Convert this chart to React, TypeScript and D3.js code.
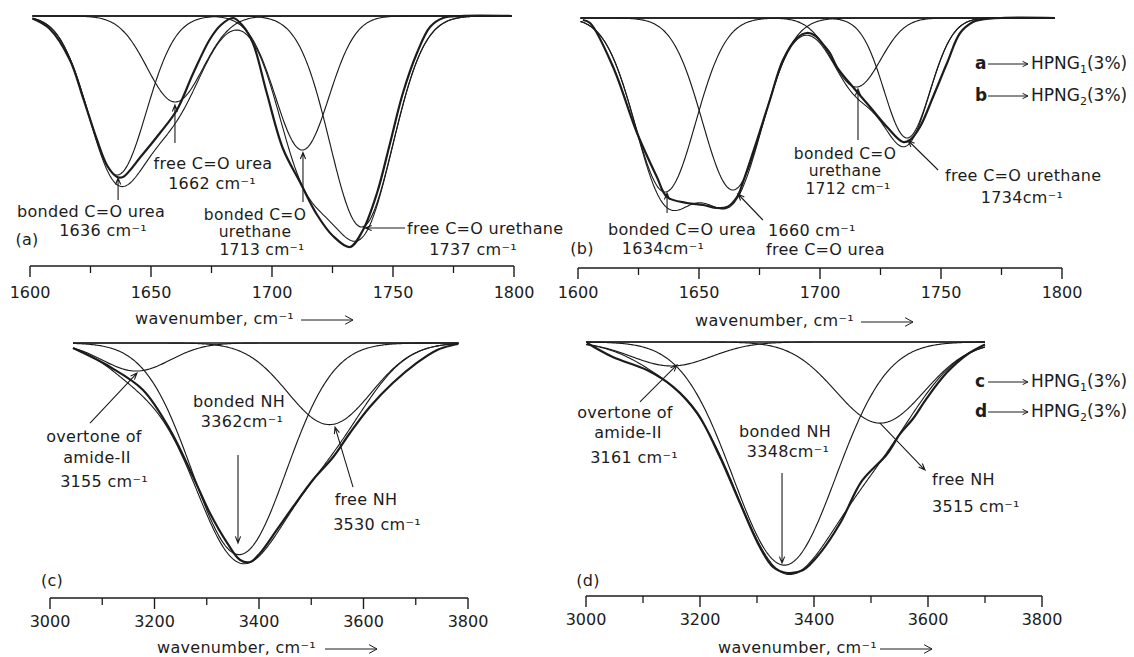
import React from 'react';
import * as d3 from 'd3';

// ---------- DATA ----------
// wavenumber ticks
const coTicks = [1600, 1650, 1700, 1750, 1800];
const coMinorTicks = [1625, 1675, 1725, 1775];
const nhTicks = [3000, 3200, 3400, 3600, 3800];
const nhMinorTicks = [3100, 3300, 3500, 3700];

// deconvoluted component peaks (center cm-1, relative depth, gaussian width cm-1)
const peaksA = [
  { name: 'bonded C=O urea', center: 1636, depth: 0.636, width: 12 },
  { name: 'free C=O urea', center: 1660, depth: 0.344, width: 11.5 },
  { name: 'bonded C=O urethane', center: 1712.5, depth: 0.536, width: 11 },
  { name: 'free C=O urethane', center: 1737, depth: 0.844, width: 13 },
];
const peaksB = [
  { name: 'bonded C=O urea', center: 1636, depth: 0.696, width: 12.5 },
  { name: 'free C=O urea', center: 1664, depth: 0.688, width: 12.5 },
  { name: 'bonded C=O urethane', center: 1715, depth: 0.276, width: 10 },
  { name: 'free C=O urethane', center: 1736, depth: 0.48, width: 9.5 },
];
const peaksC = [
  { name: 'overtone of amide-II', center: 3165, depth: 0.11, width: 65 },
  { name: 'bonded NH', center: 3362, depth: 0.83, width: 90 },
  { name: 'free NH', center: 3535, depth: 0.32, width: 80 },
];
const peaksD = [
  { name: 'overtone of amide-II', center: 3150, depth: 0.094, width: 70 },
  { name: 'bonded NH', center: 3348, depth: 0.875, width: 90 },
  { name: 'free NH', center: 3516, depth: 0.318, width: 78 },
];

// measured spectra [wavenumber, relative depth]
const measuredA: [number, number][] = [
  [1601, 0.01], [1608, 0.05], [1616.5, 0.176], [1622, 0.33], [1627.7, 0.496], [1632, 0.6],
  [1636, 0.644], [1638.4, 0.644], [1646, 0.56], [1653.7, 0.468], [1660.7, 0.376], [1667.4, 0.23],
  [1674.4, 0.092], [1679, 0.035], [1683.9, 0.008], [1688, 0.04], [1692.1, 0.108], [1697.9, 0.31],
  [1704.5, 0.53], [1711.6, 0.665], [1718.6, 0.795], [1725.2, 0.88], [1732.2, 0.924], [1737.6, 0.856],
  [1743.4, 0.708], [1748.8, 0.508], [1754.1, 0.308], [1759.9, 0.148], [1765.3, 0.044], [1770.7, 0.008],
  [1778, 0], [1799, 0],
];
const measuredB: [number, number][] = [
  [1602, 0.008], [1605, 0.02], [1614.5, 0.196], [1624.4, 0.46], [1632.6, 0.636], [1636.8, 0.716],
  [1645, 0.74], [1651.7, 0.748], [1657.4, 0.76], [1661.6, 0.756], [1665.7, 0.716], [1668.2, 0.656],
  [1674, 0.488], [1679.3, 0.328], [1684.7, 0.168], [1690.5, 0.08], [1694.6, 0.06], [1697.9, 0.07],
  [1700.8, 0.1], [1704.1, 0.14], [1707, 0.196], [1713.6, 0.276], [1720.7, 0.356], [1727.7, 0.436],
  [1734.3, 0.496], [1737.2, 0.488], [1741.3, 0.436], [1746.7, 0.316], [1752.5, 0.18], [1757.9, 0.06],
  [1763.2, 0.016], [1766.1, 0.008], [1775, 0], [1797, 0],
];
const measuredC: [number, number][] = [
  [3044, 0.02], [3115, 0.094], [3178, 0.184], [3230, 0.341], [3274, 0.525], [3306, 0.667],
  [3339, 0.784], [3364, 0.851], [3383, 0.859], [3402, 0.824], [3434, 0.733], [3465, 0.643],
  [3503, 0.537], [3542, 0.447], [3574, 0.353], [3612, 0.251], [3656, 0.157], [3702, 0.078],
  [3741, 0.027], [3771, 0.008], [3781, 0.004],
];
const measuredD: [number, number][] = [
  [3002, 0.004], [3047, 0.059], [3107, 0.11], [3153, 0.176], [3195, 0.278], [3235, 0.451],
  [3270, 0.631], [3305, 0.804], [3328, 0.882], [3353, 0.906], [3381, 0.894], [3411, 0.827],
  [3446, 0.71], [3484, 0.545], [3528, 0.44], [3551, 0.36], [3574, 0.3], [3598, 0.22],
  [3633, 0.12], [3668, 0.05], [3700, 0.01],
];

// annotation arrows in data units: [wn tail, depth tail, wn tip, depth tip]
const arrowsA: [number, number, number, number][] = [
  [1636.4, 0.736, 1636.4, 0.648],
  [1659.9, 0.508, 1659.9, 0.356],
  [1712.8, 0.744, 1712.8, 0.546],
  [1755, 0.848, 1738.5, 0.848],
];
const arrowsB: [number, number, number, number][] = [
  [1636.8, 0.78, 1636.8, 0.7],
  [1676.4, 0.808, 1666.1, 0.704],
  [1715.7, 0.488, 1715.7, 0.284],
  [1748.8, 0.608, 1736.4, 0.49],
];
const arrowsC: [number, number, number, number][] = [
  [3076.6, 0.314, 3166.5, 0.118],
  [3359.8, 0.439, 3359.8, 0.784],
  [3580, 0.565, 3545.5, 0.33],
];
const arrowsD: [number, number, number, number][] = [
  [3094.7, 0.235, 3159.6, 0.09],
  [3343.9, 0.514, 3343.9, 0.867],
  [3515.8, 0.318, 3594.7, 0.502],
];

const legendTop = [['a', 'HPNG', '1'], ['b', 'HPNG', '2']];
const legendBottom = [['c', 'HPNG', '1'], ['d', 'HPNG', '2']];

// ---------- DRAWING ----------
const FONT = '"DejaVu Sans", Verdana, sans-serif';
const INK = '#1c1c1c';
const FS = 16;

type Peak = { name: string; center: number; depth: number; width: number };

const gauss = (p: Peak, x: number) =>
  p.depth * Math.exp(-((x - p.center) ** 2) / (2 * p.width * p.width));

function ArrowPath({ x1, y1, x2, y2, head = 7, spread = 0.38, sw = 1.1 }: any) {
  const a = Math.atan2(y2 - y1, x2 - x1);
  const h1x = x2 - head * Math.cos(a - spread);
  const h1y = y2 - head * Math.sin(a - spread);
  const h2x = x2 - head * Math.cos(a + spread);
  const h2y = y2 - head * Math.sin(a + spread);
  return (
    <path
      d={`M${x1},${y1}L${x2},${y2}M${h1x},${h1y}L${x2},${y2}L${h2x},${h2y}`}
      fill="none"
      stroke={INK}
      strokeWidth={sw}
    />
  );
}

type TextItem = { t: string; x: number; y: number; anchor?: string; fs?: number };

function Panel(props: {
  xRange: [number, number];
  domain: [number, number];
  baseY: number;
  depthPx: number;
  axisY: number;
  baseline: [number, number];
  peaks: Peak[];
  measured: [number, number][];
  ticks: number[];
  minor: number[];
  tickLabelY: number;
  arrows: [number, number, number, number][];
  step: number;
}) {
  const x = d3.scaleLinear().domain(props.domain).range(props.xRange);
  const y = d3.scaleLinear().domain([0, 1]).range([props.baseY, props.baseY + props.depthPx]);
  const [b0, b1] = props.baseline;
  const xs = d3.range(b0, b1 + 1e-6, props.step);
  const line = d3
    .line<[number, number]>()
    .x((d) => x(d[0]))
    .y((d) => y(d[1]));
  const smooth = d3
    .line<[number, number]>()
    .x((d) => x(d[0]))
    .y((d) => y(d[1]))
    .curve(d3.curveCatmullRom.alpha(0.5));
  const sum = xs.map((w) => [w, d3.sum(props.peaks, (p) => gauss(p, w))] as [number, number]);
  return (
    <g>
      <line x1={x(b0)} x2={x(b1)} y1={y(0)} y2={y(0)} stroke={INK} strokeWidth={1.6} />
      {props.peaks.map((p, i) => (
        <path
          key={i}
          d={line(xs.map((w) => [w, gauss(p, w)] as [number, number])) || ''}
          fill="none"
          stroke={INK}
          strokeWidth={1.15}
        />
      ))}
      <path d={line(sum) || ''} fill="none" stroke={INK} strokeWidth={1.1} />
      <path d={smooth(props.measured) || ''} fill="none" stroke={INK} strokeWidth={2.2} />
      {props.arrows.map((a, i) => (
        <ArrowPath key={i} x1={x(a[0])} y1={y(a[1])} x2={x(a[2])} y2={y(a[3])} />
      ))}
      <line
        x1={x(props.domain[0])}
        x2={x(props.domain[1])}
        y1={props.axisY}
        y2={props.axisY}
        stroke={INK}
        strokeWidth={1.5}
      />
      {props.ticks.map((t) => (
        <g key={t}>
          <line x1={x(t)} x2={x(t)} y1={props.axisY} y2={props.axisY + 11} stroke={INK} strokeWidth={1.4} />
          <text
            x={x(t)}
            y={props.tickLabelY}
            textAnchor="middle"
            fontFamily={FONT}
            fontSize={FS}
            fill={INK}
          >
            {t}
          </text>
        </g>
      ))}
      {props.minor.map((t) => (
        <line key={t} x1={x(t)} x2={x(t)} y1={props.axisY} y2={props.axisY + 7} stroke={INK} strokeWidth={1.3} />
      ))}
    </g>
  );
}

function Texts({ items }: { items: TextItem[] }) {
  return (
    <g>
      {items.map((it, i) => (
        <text
          key={i}
          x={it.x}
          y={it.y}
          textAnchor={(it.anchor as any) || 'middle'}
          fontFamily={FONT}
          fontSize={it.fs || FS}
          letterSpacing={0.3}
          fill={INK}
        >
          {it.t}
        </text>
      ))}
    </g>
  );
}

function AxisTitle({ x, y, arrowEnd }: { x: number; y: number; arrowEnd: number }) {
  return (
    <g>
      <text x={x} y={y} fontFamily={FONT} fontSize={FS} letterSpacing={0.3} fill={INK}>
        wavenumber, cm⁻¹
      </text>
      <ArrowPath x1={arrowEnd - 52} y1={y - 4} x2={arrowEnd} y2={y - 4} head={9} spread={0.5} sw={1} />
    </g>
  );
}

function Legend({ items, x, y, dy }: { items: string[][]; x: number; y: number; dy: number }) {
  return (
    <g>
      {items.map((it, i) => (
        <g key={i}>
          <text x={x} y={y + i * dy} fontFamily={FONT} fontSize={17} fontWeight="bold" fill={INK}>
            {it[0]}
          </text>
          <ArrowPath x1={x + 13} y1={y + i * dy - 5} x2={x + 53} y2={y + i * dy - 5} head={6} spread={0.45} sw={1} />
          <text x={x + 56} y={y + i * dy} fontFamily={FONT} fontSize={17} fill={INK}>
            {it[1]}
            <tspan fontSize={11} dy={4}>
              {it[2]}
            </tspan>
            <tspan dy={-4}>(3%)</tspan>
          </text>
        </g>
      ))}
    </g>
  );
}

export default function App() {
  const textsA: TextItem[] = [
    { t: 'free C=O urea', x: 213, y: 169 },
    { t: '1662 cm⁻¹', x: 212, y: 189 },
    { t: 'bonded C=O urea', x: 91, y: 217 },
    { t: '1636 cm⁻¹', x: 103, y: 236 },
    { t: '(a)', x: 27, y: 245 },
    { t: 'bonded C=O', x: 255, y: 220, fs: 15.5 },
    { t: 'urethane', x: 255, y: 237, fs: 15.5 },
    { t: '1713 cm⁻¹', x: 262, y: 255, fs: 15.5 },
    { t: 'free C=O urethane', x: 407, y: 234, anchor: 'start' },
    { t: '1737 cm⁻¹', x: 473, y: 255 },
  ];
  const textsB: TextItem[] = [
    { t: 'bonded C=O urea', x: 682, y: 235 },
    { t: '1634cm⁻¹', x: 663, y: 254 },
    { t: '(b)', x: 582, y: 254 },
    { t: '1660 cm⁻¹', x: 768, y: 236, anchor: 'start' },
    { t: 'free C=O urea', x: 766, y: 255, anchor: 'start' },
    { t: 'bonded C=O', x: 845, y: 159, fs: 15.5 },
    { t: 'urethane', x: 845, y: 176, fs: 15.5 },
    { t: '1712 cm⁻¹', x: 848, y: 194, fs: 15.5 },
    { t: 'free C=O urethane', x: 945, y: 181, anchor: 'start' },
    { t: '1734cm⁻¹', x: 1022, y: 203 },
  ];
  const textsC: TextItem[] = [
    { t: 'overtone of', x: 94, y: 442 },
    { t: 'amide-II', x: 97, y: 463 },
    { t: '3155 cm⁻¹', x: 104, y: 487 },
    { t: 'bonded NH', x: 239, y: 407 },
    { t: '3362cm⁻¹', x: 242, y: 427 },
    { t: 'free NH', x: 366, y: 505 },
    { t: '3530 cm⁻¹', x: 377, y: 530 },
    { t: '(c)', x: 52, y: 586 },
  ];
  const textsD: TextItem[] = [
    { t: 'overtone of', x: 625, y: 418 },
    { t: 'amide-II', x: 628, y: 438 },
    { t: '3161 cm⁻¹', x: 634, y: 463 },
    { t: 'bonded NH', x: 785, y: 437 },
    { t: '3348cm⁻¹', x: 788, y: 457 },
    { t: 'free NH', x: 932, y: 485, anchor: 'start' },
    { t: '3515 cm⁻¹', x: 932, y: 512, anchor: 'start' },
    { t: '(d)', x: 588, y: 586 },
  ];

  return (
    <svg
      width={1134}
      height={657}
      style={{ position: 'absolute', left: 0, top: 0, background: '#fff' }}
    >
      <rect width={1134} height={657} fill="#fff" />
      <Panel
        xRange={[30, 514]}
        domain={[1600, 1800]}
        baseY={16}
        depthPx={250}
        axisY={266}
        baseline={[1601, 1799]}
        peaks={peaksA}
        measured={measuredA}
        ticks={coTicks}
        minor={coMinorTicks}
        tickLabelY={298}
        arrows={arrowsA}
        step={0.5}
      />
      <Panel
        xRange={[578, 1062]}
        domain={[1600, 1800]}
        baseY={18}
        depthPx={250}
        axisY={268}
        baseline={[1601, 1797]}
        peaks={peaksB}
        measured={measuredB}
        ticks={coTicks}
        minor={coMinorTicks}
        tickLabelY={298}
        arrows={arrowsB}
        step={0.5}
      />
      <Panel
        xRange={[50, 468]}
        domain={[3000, 3800]}
        baseY={343}
        depthPx={255}
        axisY={598}
        baseline={[3044, 3782]}
        peaks={peaksC}
        measured={measuredC}
        ticks={nhTicks}
        minor={nhMinorTicks}
        tickLabelY={627}
        arrows={arrowsC}
        step={2}
      />
      <Panel
        xRange={[586, 1042]}
        domain={[3000, 3800]}
        baseY={342}
        depthPx={255}
        axisY={596}
        baseline={[3000, 3700]}
        peaks={peaksD}
        measured={measuredD}
        ticks={nhTicks}
        minor={nhMinorTicks}
        tickLabelY={625}
        arrows={arrowsD}
        step={2}
      />
      <Texts items={textsA} />
      <Texts items={textsB} />
      <Texts items={textsC} />
      <Texts items={textsD} />
      <AxisTitle x={135} y={324} arrowEnd={353} />
      <AxisTitle x={695} y={326} arrowEnd={913} />
      <AxisTitle x={157} y={653} arrowEnd={377} />
      <AxisTitle x={718} y={653} arrowEnd={932} />
      <Legend items={legendTop} x={975} y={69} dy={32} />
      <Legend items={legendBottom} x={975} y={387} dy={30} />
    </svg>
  );
}
